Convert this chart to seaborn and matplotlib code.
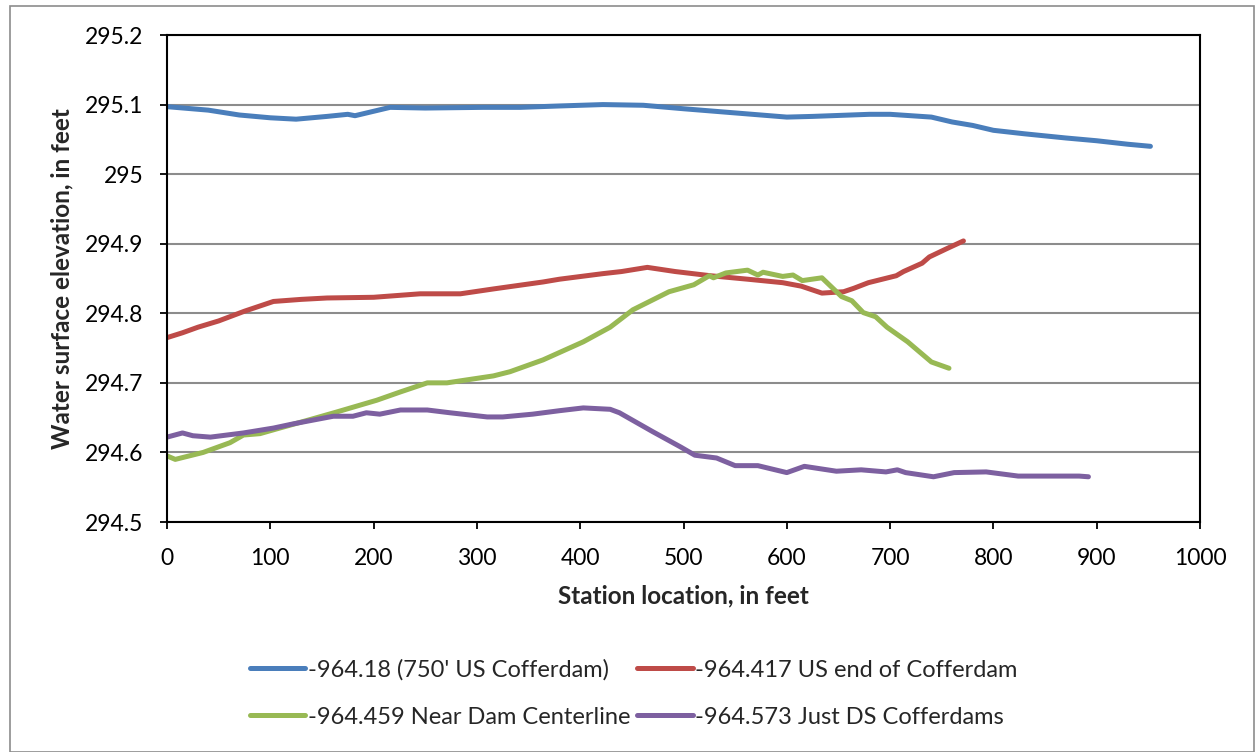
import matplotlib
matplotlib.use("Agg")
from matplotlib import pyplot as plt
from matplotlib.patches import Rectangle
import pandas as pd
import numpy as np
import seaborn as sns

# series (station ft, elevation ft)
blue_x = [0, 40, 70, 100, 125, 155, 175, 182, 216, 250, 306, 342, 380, 422, 461, 500, 550, 600, 625, 680, 700, 740, 760, 780, 800, 830, 870, 900, 930, 952]
blue_y = [295.097, 295.092, 295.085, 295.081, 295.079, 295.083, 295.086, 295.084, 295.096, 295.095, 295.096, 295.096, 295.098, 295.100, 295.099, 295.094, 295.088, 295.082, 295.083, 295.086, 295.086, 295.082, 295.075, 295.070, 295.063, 295.058, 295.052, 295.048, 295.043, 295.040]

red_x = [0, 15, 30, 50, 75, 103, 130, 155, 200, 245, 284, 316, 364, 380, 422, 440, 465, 492, 526, 562, 596, 614, 634, 655, 665, 679, 706, 713, 731, 738, 755, 771]
red_y = [294.765, 294.772, 294.780, 294.789, 294.803, 294.817, 294.820, 294.822, 294.823, 294.828, 294.828, 294.835, 294.845, 294.849, 294.857, 294.860, 294.866, 294.860, 294.854, 294.849, 294.844, 294.839, 294.829, 294.831, 294.836, 294.844, 294.854, 294.860, 294.872, 294.881, 294.893, 294.904]

green_x = [0, 8, 35, 61, 74, 90, 109, 138, 164, 203, 226, 252, 271, 316, 332, 364, 403, 429, 451, 486, 510, 525, 529, 541, 562, 572, 577, 596, 606, 615, 634, 653, 663, 674, 686, 697, 717, 740, 757]
green_y = [294.595, 294.590, 294.600, 294.614, 294.625, 294.627, 294.635, 294.647, 294.658, 294.675, 294.687, 294.700, 294.700, 294.710, 294.716, 294.733, 294.759, 294.780, 294.805, 294.831, 294.841, 294.854, 294.851, 294.858, 294.862, 294.855, 294.859, 294.853, 294.855, 294.847, 294.851, 294.824, 294.818, 294.801, 294.795, 294.780, 294.759, 294.730, 294.721]

purple_x = [0, 15, 25, 42, 74, 103, 122, 161, 180, 193, 206, 226, 252, 274, 310, 325, 354, 380, 403, 429, 438, 470, 497, 511, 532, 550, 572, 600, 617, 648, 672, 696, 707, 715, 742, 762, 793, 824, 883, 892]
purple_y = [294.622, 294.628, 294.624, 294.622, 294.628, 294.635, 294.641, 294.652, 294.652, 294.657, 294.655, 294.661, 294.661, 294.657, 294.651, 294.651, 294.655, 294.660, 294.664, 294.662, 294.657, 294.630, 294.608, 294.596, 294.592, 294.581, 294.581, 294.571, 294.580, 294.573, 294.575, 294.572, 294.575, 294.571, 294.565, 294.571, 294.572, 294.566, 294.566, 294.565]

names = ["-964.18 (750' US Cofferdam)", "-964.417 US end of Cofferdam",
         "-964.459 Near Dam Centerline", "-964.573 Just DS Cofferdams"]
colors = ["#4A7EBB", "#BE4B48", "#98B954", "#7D60A0"]

y_ticks = [294.5, 294.6, 294.7, 294.8, 294.9, 295.0, 295.1, 295.2]
y_tick_labels = ["294.5", "294.6", "294.7", "294.8", "294.9", "295", "295.1", "295.2"]
x_ticks = [0, 100, 200, 300, 400, 500, 600, 700, 800, 900, 1000]

frames = []
for nm, xs, ys in zip(names, [blue_x, red_x, green_x, purple_x], [blue_y, red_y, green_y, purple_y]):
    frames.append(pd.DataFrame({"station": xs, "elev": ys, "series": nm}))
df = pd.concat(frames, ignore_index=True)

sns.set_theme(style="white")
plt.rcParams["font.family"] = ["Lato", "DejaVu Sans"]

fig = plt.figure(figsize=(12.55, 7.52), dpi=100)
ax = fig.add_axes([167 / 1255, 1 - 522 / 752, (1200 - 167) / 1255, (522 - 35) / 752])

sns.lineplot(data=df, x="station", y="elev", hue="series", hue_order=names,
             palette=colors, linewidth=3.6, sort=False, estimator=None, ax=ax)

ax.set_xlim(0, 1000)
ax.set_ylim(294.5, 295.2)
ax.set_xticks(x_ticks)
ax.set_yticks(y_ticks)
ax.set_yticklabels(y_tick_labels)
ax.grid(axis="y", color="#8C8C8C", linewidth=1.5)
ax.grid(axis="x", visible=False)
ax.set_axisbelow(True)
for s in ax.spines.values():
    s.set_color("black")
    s.set_linewidth(1.5)
ax.tick_params(axis="both", direction="out", length=5, width=1.3, color="black",
               labelsize=16.5, labelcolor="black", bottom=True, left=True, pad=12)
ax.tick_params(axis="x", pad=14)

ax.set_xlabel("Station location, in feet", fontsize=17.5, fontweight="bold", labelpad=11)
ax.set_ylabel("Water surface elevation, in feet", fontsize=17.5, fontweight="bold", labelpad=8)

handles, labels = ax.get_legend_handles_labels()
ax.get_legend().remove()
order = [0, 2, 1, 3]
fig.legend([handles[i] for i in order], [labels[i] for i in order], ncol=2,
           loc="center", bbox_to_anchor=(0.505, 0.078), frameon=False,
           fontsize=17, handlelength=2.35, handletextpad=0.1, columnspacing=0.3,
           labelspacing=1.1)

fig.patches.append(Rectangle((10 / 1255, 0.0), 1244 / 1255, 1 - 6 / 752, transform=fig.transFigure,
                             fill=False, edgecolor="#8C8C8C", linewidth=1.2))

fig.savefig("out.png", dpi=100)
